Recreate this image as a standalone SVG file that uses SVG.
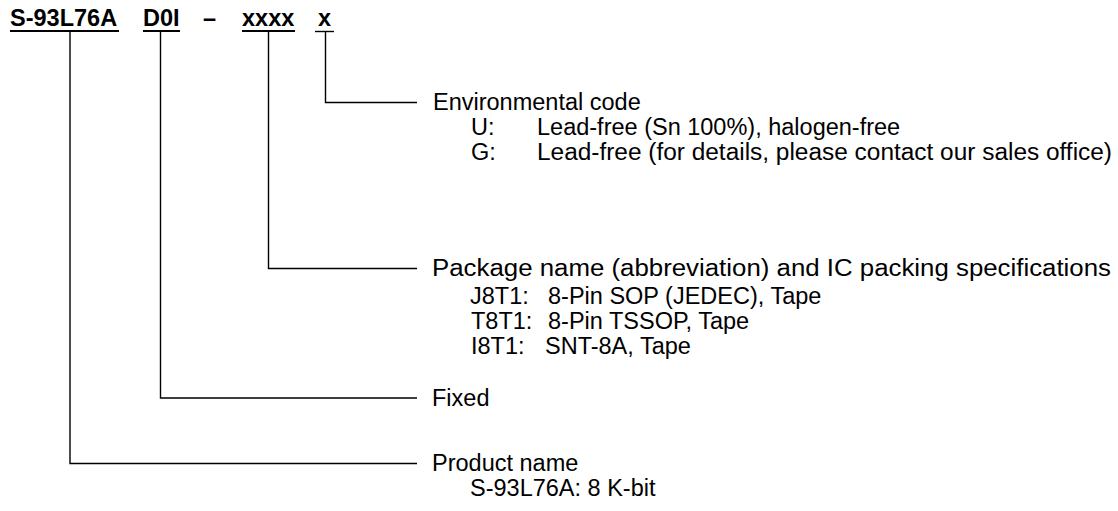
<svg xmlns="http://www.w3.org/2000/svg" width="1118" height="511" viewBox="0 0 1118 511">
<style>
.h{font-family:"Liberation Sans",Arial,sans-serif;font-weight:bold;font-size:23.5px;fill:#000}
.t{font-family:"Liberation Sans",Arial,sans-serif;font-size:23.5px;fill:#000}
.ln{stroke:#000;stroke-width:1.4;fill:none}
.ul{stroke:#000;stroke-width:2;fill:none}
</style>
<rect width="1118" height="511" fill="#fff"/>
<g id="header">
<text class="h" x="10" y="26">S-93L76A</text>
<text class="h" x="143" y="26">D0I</text>
<text class="h" x="203" y="26">–</text>
<text class="h" x="242" y="26">xxxx</text>
<text class="h" x="318" y="26">x</text>
<line class="ul" x1="10" y1="31" x2="119" y2="31"/>
<line class="ul" x1="143" y1="31" x2="180" y2="31"/>
<line class="ul" x1="242" y1="31" x2="295" y2="31"/>
<line class="ln" x1="315" y1="31.5" x2="334" y2="31.5"/>
</g>
<g id="connectors">
<polyline class="ln" points="325.5,31 325.5,102.5 417,102.5"/>
<polyline class="ln" points="268.5,31 268.5,268.5 417,268.5"/>
<polyline class="ln" points="160.5,31 160.5,398 417,398"/>
<polyline class="ln" points="70,31 70,463.5 417,463.5"/>
</g>
<g id="environmental-code">
<text class="t" x="433" y="110">Environmental code</text>
<text class="t" x="471" y="135">U:</text>
<text class="t" x="537" y="135">Lead-free (Sn 100%), halogen-free</text>
<text class="t" x="471" y="160">G:</text>
<text class="t" x="537" y="160" textLength="575" lengthAdjust="spacingAndGlyphs">Lead-free (for details, please contact our sales office)</text>
</g>
<g id="package-name">
<text class="t" x="432" y="276" textLength="679" lengthAdjust="spacingAndGlyphs">Package name (abbreviation) and IC packing specifications</text>
<text class="t" x="470" y="304">J8T1:</text>
<text class="t" x="548" y="304">8-Pin SOP (JEDEC), Tape</text>
<text class="t" x="471" y="329">T8T1:</text>
<text class="t" x="548" y="329">8-Pin TSSOP, Tape</text>
<text class="t" x="471" y="354">I8T1:</text>
<text class="t" x="545" y="354">SNT-8A, Tape</text>
</g>
<g id="fixed">
<text class="t" x="432" y="406">Fixed</text>
</g>
<g id="product-name">
<text class="t" x="432" y="471">Product name</text>
<text class="t" x="470" y="496">S-93L76A: 8 K-bit</text>
</g>
</svg>
